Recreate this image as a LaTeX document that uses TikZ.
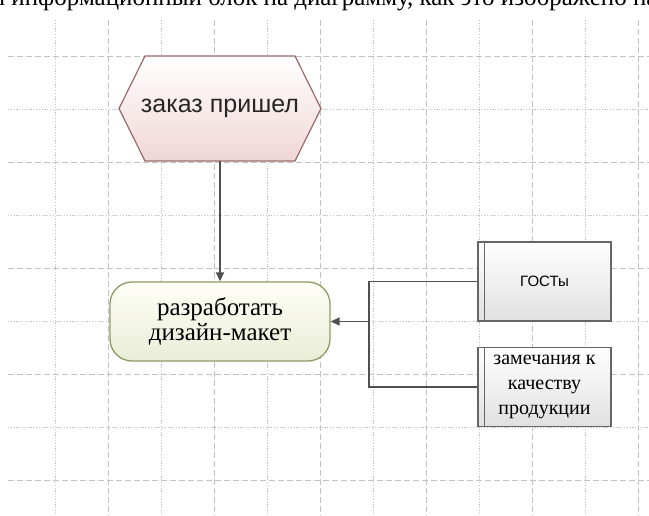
\documentclass[tikz,border=0pt]{standalone}
\usepackage{fontspec}
\setmainfont{Liberation Serif}
\newfontfamily\arialfont{Liberation Sans}
\usepackage{tikz}
\usetikzlibrary{positioning, calc}
\usetikzlibrary{arrows.meta}
\definecolor{gridgray}{HTML}{C2C2C2}
\definecolor{evborder}{HTML}{9A6868}
\definecolor{evfill}{HTML}{F0D6D6}
\definecolor{taskborder}{HTML}{8E9C66}
\definecolor{taskfill}{HTML}{E9EDD6}
\definecolor{conngray}{HTML}{505050}

\begin{document}
\begin{tikzpicture}[x=1pt,y=-1pt,
        majorline/.style={gridgray, line width=0.9pt, dash pattern=on 6pt off 3pt},
        minorline/.style={gridgray, line width=0.9pt, dash pattern=on 1.2pt off 1.6pt},
        conn/.style={conngray, line width=1.4pt},
        tip/.style={-{Triangle[length=9pt,width=8pt]}},
        infobox/.style={draw=black!60, line width=1.3pt, top color=white, bottom color=black!12,
            minimum width=133pt, minimum height=79pt, inner sep=1pt, align=center}]
                \useasboundingbox (0,0) rectangle (649,516);
                \clip (0,0) rectangle (649,516);
                \fill[white] (0,0) rectangle (649,516);
                % grid
                \foreach \gx in {108,214,...,638} \draw[majorline] (\gx,20) -- (\gx,516);
                \foreach \gx in {55,161,...,585} \draw[minorline] (\gx,20) -- (\gx,516);
                \foreach \gy in {56,162,...,480} \draw[majorline] (8,\gy) -- (649,\gy);
                \foreach \gy in {109,215,...,427} \draw[minorline] (8,\gy) -- (649,\gy);
                % text cut off at the top
                \node (caption) [anchor=base west, inner sep=0pt, font=\fontsize{25}{28}\selectfont]
                    at (208,6) {\llap{блоки информационный }блок на диаграмму, как это изображено на рисунке};
                % event
                \draw[evborder, line width=1.2pt, top color=white, bottom color=evfill]
                    (145,56) -- (295,56) -- (321,108.5) -- (295,161) -- (145,161) -- (119,108.5) -- cycle;
                \node (event) at (220,108.5) {\arialfont\fontsize{25}{28}\selectfont\color{black!85}заказ пришел};
                \coordinate (eventbot) at (220,161);
                % function
                \node (task) [draw=taskborder, line width=1.3pt, rounded corners=22pt, top color=white!97!yellow,
                    bottom color=taskfill, minimum width=220pt, minimum height=79pt, align=center,
                    font=\fontsize{25}{25}\selectfont] at (220,321.5) {разработать\\дизайн-макет};
                % information
                \node (gost) [infobox, font=\arialfont\fontsize{15}{18}\selectfont] at (544.5,281.5) {ГОСТы};
                \node (remarks) [infobox, font=\fontsize{20}{25}\selectfont] at (544.5,387) {замечания к\\качеству\\продукции};
                \draw[black!60, line width=1.3pt] ([xshift=7pt]gost.north west) -- ([xshift=7pt]gost.south west);
                \draw[black!60, line width=1.3pt] ([xshift=7pt]remarks.north west) -- ([xshift=7pt]remarks.south west);
                \coordinate (fork) at (369,321.5);
                % connectors
                \draw[conn, tip] (eventbot) -- (task.north);
                \draw[conn] (gost.west) -| (fork) |- (remarks.west);
                \draw[conn, tip] (fork) -- (task.east);
            \end{tikzpicture}
\end{document}
